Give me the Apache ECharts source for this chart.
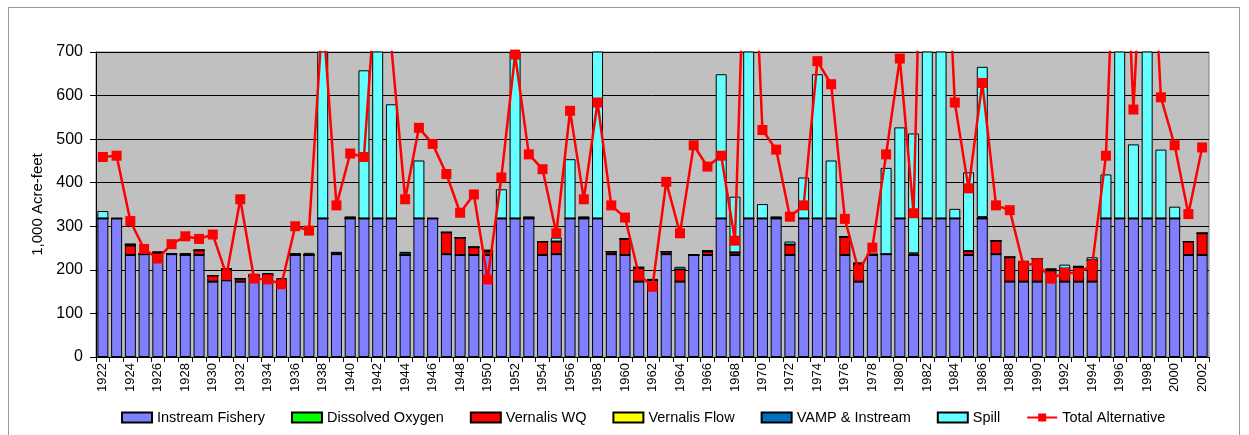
<!DOCTYPE html>
<html>
<head>
<meta charset="utf-8">
<title>Water Allocation by Component, 1922-2002</title>
<script src="https://cdn.jsdelivr.net/npm/echarts@6/dist/echarts.min.js"></script>
<style>
  html, body { margin: 0; padding: 0; background: #ffffff; }
  #frame { position: absolute; left: 8px; top: 7px; width: 1232px; height: 440px; border: 1px solid #9a9a9a; box-sizing: border-box; }
  #chart { position: absolute; left: 0; top: 0; width: 1249px; height: 435px; }
</style>
</head>
<body>
<div id="frame"></div>
<div id="chart"></div>
<script>
// Water years 1922-2002
const years = [];
for (let y = 1922; y <= 2002; y++) years.push(String(y));

// Component volumes, 1,000 acre-feet
const instreamFishery = [
  318, 318, 234, 236, 238, 236, 234, 234, 173, 176,
  173, 186, 188, 177, 234, 234, 318, 236, 318, 318,
  318, 318, 234, 318, 318, 236, 234, 234, 234, 318,
  318, 318, 234, 236, 318, 318, 318, 236, 234, 173,
  176, 236, 173, 234, 234, 318, 234, 318, 318, 318,
  234, 318, 318, 318, 234, 173, 234, 236, 318, 234,
  318, 318, 318, 234, 318, 236, 173, 173, 173, 173,
  173, 173, 173, 318, 318, 318, 318, 318, 318, 234,
  234
];
const dissolvedOxygen = [
  0, 0, 0, 0, 0, 0, 0, 0, 0, 0,
  0, 0, 0, 0, 0, 0, 0, 0, 0, 0,
  0, 0, 0, 0, 0, 0, 0, 0, 0, 0,
  0, 0, 0, 0, 0, 0, 0, 0, 0, 0,
  0, 0, 0, 0, 0, 0, 0, 0, 0, 0,
  0, 0, 0, 0, 0, 0, 0, 0, 0, 0,
  0, 0, 0, 0, 0, 0, 0, 0, 0, 0,
  0, 0, 0, 0, 0, 0, 0, 0, 0, 0,
  0
];
const vernalisWQ = [
  0, 0, 22, 0, 0, 0, 0, 11, 14, 24,
  7, 0, 0, 0, 0, 0, 0, 0, 0, 0,
  0, 0, 0, 0, 0, 50, 40, 18, 8, 0,
  0, 0, 31, 29, 0, 0, 0, 6, 37, 30,
  0, 6, 28, 0, 8, 0, 6, 0, 0, 0,
  24, 0, 0, 0, 42, 42, 0, 0, 0, 0,
  0, 0, 0, 9, 0, 31, 56, 45, 53, 26,
  30, 32, 49, 0, 0, 0, 0, 0, 0, 31,
  50
];
const vernalisFlow = [
  0, 0, 0, 0, 0, 0, 0, 0, 0, 0,
  0, 0, 0, 0, 0, 0, 0, 0, 0, 0,
  0, 0, 0, 0, 0, 0, 0, 0, 0, 0,
  0, 0, 0, 0, 0, 0, 0, 0, 0, 0,
  0, 0, 0, 0, 0, 0, 0, 0, 0, 0,
  0, 0, 0, 0, 0, 0, 0, 0, 0, 0,
  0, 0, 0, 0, 0, 0, 0, 0, 0, 0,
  0, 0, 0, 0, 0, 0, 0, 0, 0, 0,
  0
];
const vampInstream = [
  0, 0, 3, 2, 3, 0, 3, 0, 0, 3,
  0, 3, 3, 0, 3, 0, 0, 4, 3, 0,
  0, 0, 6, 0, 0, 0, 0, 0, 3, 0,
  0, 3, 0, 0, 0, 3, 0, 0, 0, 3,
  2, 0, 0, 0, 2, 0, 0, 0, 0, 3,
  0, 0, 0, 0, 0, 0, 2, 0, 0, 4,
  0, 0, 0, 0, 3, 0, 0, 0, 0, 3,
  0, 3, 0, 0, 0, 0, 0, 0, 0, 0,
  0
];
const spill = [
  17, 0, 0, 0, 0, 0, 0, 0, 0, 0,
  0, 0, 0, 4, 0, 5, 480, 0, 0, 340,
  600, 262, 0, 133, 0, 0, 0, 0, 0, 67,
  450, 0, 0, 9, 136, 0, 450, 0, 0, 0,
  0, 0, 6, 0, 0, 331, 128, 930, 33, 0,
  7, 94, 331, 133, 0, 0, 0, 198, 209, 275,
  1280, 930, 22, 181, 345, 0, 0, 0, 0, 0,
  9, 0, 7, 101, 980, 170, 880, 158, 27, 0,
  0
];
const totalAlternative = [
  459, 462, 312, 248, 226, 259, 277, 271, 281, 188,
  362, 180, 178, 167, 300, 290, 790, 348, 467, 459,
  910, 710, 362, 526, 489, 420, 331, 373, 178, 412,
  694, 465, 431, 284, 565, 362, 584, 348, 320, 190,
  161, 402, 284, 486, 437, 462, 267, 1250, 521, 476,
  322, 348, 679, 626, 317, 198, 251, 465, 685, 330,
  1600, 1250, 584, 387, 629, 348, 337, 210, 215, 180,
  193, 193, 211, 462, 1300, 568, 1200, 596, 486, 328,
  481
];

const yTicks = { min: 0, max: 700, step: 100 };

const FONT = 'Arial, "Liberation Sans", sans-serif';

function barSeries(name, data, color) {
  return {
    name: name,
    type: 'bar',
    stack: 'components',
    data: data,
    barCategoryGap: '20%',
    clip: true,
    itemStyle: { color: color, borderColor: '#000000', borderWidth: 1 },
    emphasis: { disabled: true }
  };
}

const chart = echarts.init(document.getElementById('chart'), null, { renderer: 'canvas' });

chart.setOption({
  animation: false,
  backgroundColor: 'transparent',
  textStyle: { fontFamily: FONT, color: '#000000' },
  grid: {
    left: 96, right: 40, top: 52, bottom: 78,
    show: true,
    backgroundColor: '#C0C0C0',
    borderColor: '#808080',
    borderWidth: 1
  },
  legend: {
    top: 410,
    left: 121,
    padding: 0,
    itemWidth: 30,
    itemHeight: 10,
    itemGap: 26,
    textStyle: { fontFamily: FONT, fontSize: 14.5, color: '#000000' },
    data: [
      { name: 'Instream Fishery', icon: 'rect' },
      { name: 'Dissolved Oxygen', icon: 'rect' },
      { name: 'Vernalis WQ', icon: 'rect' },
      { name: 'Vernalis Flow', icon: 'rect' },
      { name: 'VAMP & Instream', icon: 'rect' },
      { name: 'Spill', icon: 'rect' },
      { name: 'Total Alternative' }
    ]
  },
  xAxis: {
    type: 'category',
    data: years,
    boundaryGap: true,
    axisLine: { lineStyle: { color: '#000000', width: 1 } },
    axisTick: { show: true, alignWithLabel: false, interval: 0, length: 5, lineStyle: { color: '#000000' } },
    axisLabel: {
      interval: 1,
      rotate: 90,
      fontFamily: FONT,
      fontSize: 13,
      color: '#000000',
      margin: 6
    },
    splitLine: { show: false }
  },
  yAxis: {
    type: 'value',
    min: yTicks.min,
    max: yTicks.max,
    interval: yTicks.step,
    name: '1,000 Acre-feet',
    nameLocation: 'middle',
    nameGap: 44,
    nameRotate: 90,
    nameTextStyle: { fontFamily: FONT, fontSize: 15, color: '#000000' },
    axisLine: { show: true, lineStyle: { color: '#000000', width: 1 } },
    axisTick: { show: true, length: 6, lineStyle: { color: '#000000' } },
    axisLabel: { fontFamily: FONT, fontSize: 16, color: '#000000', margin: 13 },
    splitLine: { show: true, lineStyle: { color: '#000000', width: 1 } }
  },
  series: [
    barSeries('Instream Fishery', instreamFishery, '#8080FF'),
    barSeries('Dissolved Oxygen', dissolvedOxygen, '#00FF00'),
    barSeries('Vernalis WQ', vernalisWQ, '#FF0000'),
    barSeries('Vernalis Flow', vernalisFlow, '#FFFF00'),
    barSeries('VAMP & Instream', vampInstream, '#0070C0'),
    barSeries('Spill', spill, '#66FFFF'),
    {
      name: 'Total Alternative',
      type: 'line',
      data: totalAlternative,
      clip: true,
      z: 5,
      symbol: 'rect',
      symbolSize: 10,
      showAllSymbol: true,
      lineStyle: { color: '#FF0000', width: 2.5 },
      itemStyle: { color: '#FF0000' },
      emphasis: { disabled: true }
    }
  ]
});
</script>
</body>
</html>
